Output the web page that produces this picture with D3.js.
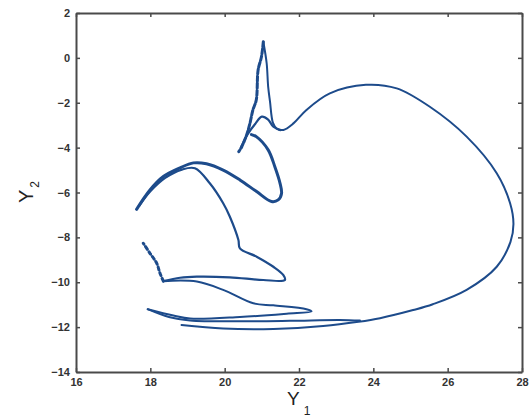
<!DOCTYPE html>
<html>
<head>
<meta charset="utf-8">
<script src="https://cdn.jsdelivr.net/npm/d3@7"></script>
<style>
  body { margin: 0; background: #fff; }
  svg { display: block; font-family: "Liberation Sans", Arial, sans-serif; }
</style>
</head>
<body>
<svg id="chart"></svg>
<script>
const width = 529, height = 417;
const margin = ({top: 13, right: 7, bottom: 45, left: 76});

// tick labels
const xTicks = [16, 18, 20, 22, 24, 26, 28];
const yTicks = [-14, -12, -10, -8, -6, -4, -2, 0, 2];

// trajectory pieces, [Y1, Y2]
const bigLoop = [
  [18.84,-11.9],[19.96,-12.06],[21.31,-12.08],[22.65,-11.95],[23.6,-11.76],[24.18,-11.6],
  [25.07,-11.24],[25.6,-10.98],[26.51,-10.34],[27.32,-9.31],[27.69,-8.2],[27.77,-7.4],
  [27.68,-6.48],[27.32,-5.14],[26.51,-3.51],[25.52,-2.18],[24.63,-1.36],[23.8,-1.2],
  [22.83,-1.58],[22.2,-2.32],[21.85,-2.92],[21.58,-3.21],[21.4,-3.15],[21.3,-2.9],
  [21.22,-1.95],[21.17,-1.28],[21.13,-0.24],[21.04,0.72]
];
const spikeLeft = [
  [21.04,0.72],[20.99,0.05],[20.9,-0.54],[20.85,-1.88],[20.76,-2.32],[20.68,-2.92],
  [20.59,-3.44],[20.46,-3.96],[20.38,-4.18]
];
const spikeHump = [
  [20.45,-3.95],[20.62,-3.4],[20.82,-2.95],[21.0,-2.62],[21.17,-2.75],[21.31,-3.07],[21.5,-3.22]
];
const outerArc = [
  [20.72,-3.42],[20.86,-3.52],[21.17,-4.1],[21.35,-4.85],[21.49,-5.59],[21.53,-6.04],
  [21.44,-6.33],[21.26,-6.4],[20.86,-5.96],[20.41,-5.44],[19.96,-5.0],[19.51,-4.72],
  [19.16,-4.68],[18.8,-4.9],[18.35,-5.29],[17.99,-5.89],[17.63,-6.75]
];
const innerArc = [
  [17.7,-6.6],[18.0,-5.95],[18.4,-5.35],[18.85,-4.98],[19.2,-4.92],[19.6,-5.59],
  [19.96,-6.48],[20.14,-7.08],[20.37,-8.12],[20.41,-8.49],[20.86,-8.86],[21.31,-9.31],
  [21.58,-9.68],[21.62,-9.9],[21.04,-9.9],[20.14,-9.78],[19.25,-9.75],[18.8,-9.8],[18.35,-9.95]
];
const tailDots = [
  [18.35,-9.95],[18.26,-9.6],[18.17,-9.15],[17.99,-8.71],[17.81,-8.26]
];
const lowerFan = [
  [18.35,-9.95],[19.25,-9.97],[19.96,-10.34],[20.77,-10.94],[21.31,-11.03],[22.2,-11.2],
  [22.34,-11.3],[21.67,-11.4],[20.41,-11.55],[19.07,-11.62],[18.62,-11.48],[17.93,-11.2]
];
const bottomMid = [
  [17.93,-11.2],[18.5,-11.55],[19.07,-11.7],[20.41,-11.74],[21.76,-11.72],[23.1,-11.68],[23.64,-11.71]
];

const strands = [
  {pts: bigLoop, w: 2},
  {pts: spikeLeft, w: 3, dash: "5,2"},
  {pts: spikeHump, w: 2.2},
  {pts: outerArc, w: 3},
  {pts: innerArc, w: 2.2},
  {pts: tailDots, w: 3, dash: "3,3"},
  {pts: lowerFan, w: 2},
  {pts: bottomMid, w: 2}
];

const svg = d3.select("#chart").attr("width", width).attr("height", height);
svg.append("rect").attr("width", width).attr("height", height).attr("fill", "#fff");

const x = d3.scaleLinear([16, 28], [margin.left, width - margin.right]);
const y = d3.scaleLinear([-14, 2], [height - margin.bottom, margin.top]);

const line = d3.line()
  .x(d => x(d[0]))
  .y(d => y(d[1]))
  .curve(d3.curveCatmullRom.alpha(0.5));

svg.append("g")
  .selectAll("path")
  .data(strands)
  .join("path")
    .attr("d", d => line(d.pts))
    .attr("fill", "none")
    .attr("stroke", "#1d4b8b")
    .attr("stroke-width", d => d.w)
    .attr("stroke-dasharray", d => d.dash || null)
    .attr("stroke-linejoin", "round")
    .attr("stroke-linecap", "round");

// axes, matlab-like box with inward ticks
const axisColor = "#4a4a4a";
const styleAxis = g => {
  g.select(".domain").attr("stroke", axisColor).attr("stroke-width", 2);
  g.selectAll(".tick line").attr("stroke", axisColor).attr("stroke-width", 1.5);
  g.selectAll(".tick text").attr("fill", "#333").attr("font-weight", "bold").attr("font-size", 11);
};

svg.append("g")
  .attr("transform", `translate(0,${height - margin.bottom})`)
  .call(d3.axisBottom(x).tickValues(xTicks).tickSizeInner(-4).tickSizeOuter(0).tickPadding(6))
  .call(styleAxis);

svg.append("g")
  .attr("transform", `translate(0,${margin.top})`)
  .call(d3.axisTop(x).tickValues(xTicks).tickSizeInner(-4).tickSizeOuter(0).tickFormat(""))
  .call(styleAxis);

svg.append("g")
  .attr("transform", `translate(${margin.left},0)`)
  .call(d3.axisLeft(y).tickValues(yTicks).tickSizeInner(-4).tickSizeOuter(0).tickPadding(6))
  .call(styleAxis);

svg.append("g")
  .attr("transform", `translate(${width - margin.right},0)`)
  .call(d3.axisRight(y).tickValues(yTicks).tickSizeInner(-4).tickSizeOuter(0).tickFormat(""))
  .call(styleAxis);

svg.selectAll(".tick text").attr("font-family", "Liberation Sans, Arial, sans-serif");

// axis titles
const xt = svg.append("text")
  .attr("x", 287).attr("y", 405)
  .attr("fill", "#222").attr("font-size", 19);
xt.append("tspan").text("Y");
xt.append("tspan").attr("dx", 4).attr("dy", 10).attr("font-size", 12).text("1");

const yt = svg.append("text")
  .attr("transform", "translate(33,203) rotate(-90)")
  .attr("fill", "#222").attr("font-size", 20);
yt.append("tspan").text("Y");
yt.append("tspan").attr("dx", 2).attr("dy", 6).attr("font-size", 12).text("2");
</script>
</body>
</html>
